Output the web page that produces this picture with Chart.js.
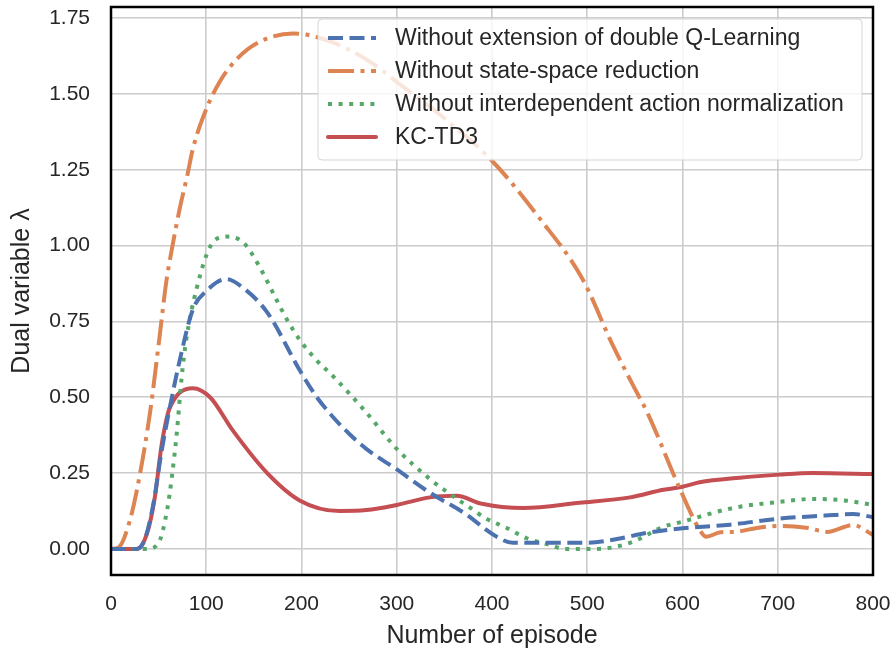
<!DOCTYPE html>
<html>
<head>
<meta charset="utf-8">
<script src="https://cdn.jsdelivr.net/npm/chart.js@4.4.0/dist/chart.umd.min.js"></script>
<style>
  html, body { margin: 0; padding: 0; background: #fff; }
  #wrap { width: 895px; height: 649px; }
</style>
</head>
<body>
<div id="wrap"><canvas id="chart" width="895" height="649"></canvas></div>
<script>
// values: [episode, lambda]
const noDoubleQ = [[0,0],[25,0],[34,0.02],[44,0.14],[53,0.32],[62,0.47],[72,0.62],[86,0.79],[100,0.85],[121,0.89],[139,0.86],[164,0.78],[198,0.59],[215,0.505],[233,0.435],[250,0.38],[268,0.33],[300,0.262],[335,0.185],[370,0.12],[405,0.04],[422,0.02],[450,0.02],[500,0.02],[527,0.03],[563,0.053],[600,0.068],[650,0.08],[702,0.1],[750,0.11],[779,0.115],[800,0.105]];
const noStateReduction = [[0,0],[8,0.005],[20,0.096],[30,0.24],[41,0.45],[51,0.7],[58,0.88],[64,0.99],[72,1.12],[80,1.23],[86,1.32],[100,1.45],[114,1.54],[132,1.615],[156,1.672],[191,1.7],[233,1.67],[275,1.6],[300,1.54],[350,1.42],[400,1.28],[450,1.09],[495,0.89],[527,0.67],[548,0.54],[563,0.45],[597,0.2],[618,0.063],[625,0.04],[640,0.055],[653,0.056],[680,0.07],[702,0.076],[730,0.07],[752,0.056],[779,0.079],[800,0.046]];
const noActionNorm = [[0,0],[38,0],[50,0.02],[59,0.13],[64,0.24],[69,0.38],[74,0.56],[79,0.69],[90,0.86],[104,0.996],[121,1.03],[139,1.01],[156,0.93],[174,0.82],[185,0.755],[198,0.69],[215,0.625],[233,0.57],[268,0.45],[300,0.33],[335,0.23],[354,0.185],[375,0.14],[394,0.1],[415,0.07],[436,0.036],[461,0.013],[475,0],[510,0],[545,0.02],[580,0.073],[600,0.09],[653,0.135],[702,0.155],[737,0.165],[770,0.16],[800,0.145]];
const kcTd3 = [[0,0],[27,0],[38,0.053],[46,0.17],[53,0.34],[60,0.45],[64,0.48],[72,0.515],[86,0.53],[104,0.5],[128,0.39],[164,0.25],[198,0.16],[240,0.125],[268,0.128],[300,0.145],[335,0.17],[363,0.175],[388,0.15],[433,0.135],[492,0.152],[545,0.17],[580,0.195],[600,0.205],[618,0.22],[660,0.235],[702,0.245],[737,0.25],[800,0.247]];

const seriesNames = [
  'Without extension of double Q-Learning',
  'Without state-space reduction',
  'Without interdependent action normalization',
  'KC-TD3'
];
const xTicks = [0, 100, 200, 300, 400, 500, 600, 700, 800];
const yTicks = [0, 0.25, 0.5, 0.75, 1.0, 1.25, 1.5, 1.75];

const FONT = '"Liberation Sans", Arial, sans-serif';
const toPts = arr => arr.map(p => ({ x: p[0], y: p[1] }));

function makeSet(label, data, color, dash) {
  return {
    label,
    data: toPts(data),
    borderColor: color,
    backgroundColor: color,
    borderDash: dash,
    borderWidth: 4,
    borderCapStyle: dash.length ? 'butt' : 'round',
    pointRadius: 0,
    cubicInterpolationMode: 'monotone',
    fill: false
  };
}

// keep the plot box fixed, labels may hang over the edges
function noOverhang(s) {
  s.paddingLeft = 0;
  s.paddingRight = 0;
  s.paddingTop = 0;
  s.paddingBottom = 0;
}

// legend drawn inside the plot, matplotlib style
const innerLegend = {
  id: 'innerLegend',
  afterDatasetsDraw(chart) {
    const ctx = chart.ctx;
    const x0 = 318, y0 = 19, w = 544, h = 141;
    ctx.save();
    ctx.beginPath();
    ctx.roundRect(x0, y0, w, h, 4);
    ctx.fillStyle = 'rgba(255,255,255,0.8)';
    ctx.fill();
    ctx.strokeStyle = '#d5d5d5';
    ctx.lineWidth = 1;
    ctx.stroke();
    ctx.font = '23px ' + FONT;
    ctx.textBaseline = 'middle';
    chart.data.datasets.forEach((ds, i) => {
      const yy = 38 + i * 33;
      ctx.beginPath();
      ctx.setLineDash(ds.borderDash || []);
      ctx.lineCap = ds.borderCapStyle;
      ctx.strokeStyle = ds.borderColor;
      ctx.lineWidth = ds.borderWidth;
      ctx.moveTo(328, yy);
      ctx.lineTo(376, yy);
      ctx.stroke();
      ctx.setLineDash([]);
      ctx.fillStyle = '#262626';
      ctx.fillText(ds.label, 395, yy + 1);
    });
    ctx.restore();
  }
};

// black frame around the plot area
const frame = {
  id: 'frame',
  afterDraw(chart) {
    const a = chart.chartArea;
    const ctx = chart.ctx;
    ctx.save();
    ctx.strokeStyle = '#000';
    ctx.lineWidth = 2.5;
    ctx.strokeRect(a.left, a.top, a.right - a.left, a.bottom - a.top);
    ctx.restore();
  }
};

new Chart(document.getElementById('chart').getContext('2d'), {
  type: 'line',
  data: {
    datasets: [
      makeSet(seriesNames[0], noDoubleQ, '#4C72B0', [15, 6.5]),
      makeSet(seriesNames[1], noStateReduction, '#DD8452', [26, 6.5, 4, 6.5]),
      makeSet(seriesNames[2], noActionNorm, '#55A868', [4, 6.6]),
      makeSet(seriesNames[3], kcTd3, '#C44E52', [])
    ]
  },
  options: {
    responsive: false,
    animation: false,
    layout: { padding: { top: 7, right: 22, left: 0, bottom: 0 } },
    plugins: {
      legend: { display: false },
      tooltip: { enabled: false }
    },
    scales: {
      x: {
        type: 'linear',
        min: 0,
        max: 800,
        afterBuildTicks: s => { s.ticks = xTicks.map(v => ({ value: v })); },
        afterFit: s => { s.height = 74; noOverhang(s); },
        grid: { color: '#cccccc', lineWidth: 1.6, drawTicks: false },
        border: { display: false },
        ticks: { color: '#262626', font: { family: FONT, size: 21 }, padding: 17, maxRotation: 0 },
        title: { display: true, text: 'Number of episode', color: '#262626', font: { family: FONT, size: 25, lineHeight: 1 }, padding: 0 }
      },
      y: {
        type: 'linear',
        min: -0.086,
        max: 1.787,
        afterBuildTicks: s => { s.ticks = yTicks.map(v => ({ value: v })); },
        afterFit: s => { s.width = 111; noOverhang(s); },
        grid: { color: '#cccccc', lineWidth: 1.6, drawTicks: false },
        border: { display: false },
        ticks: { color: '#262626', font: { family: FONT, size: 21 }, padding: 21, callback: v => v.toFixed(2) },
        title: { display: true, text: 'Dual variable λ', color: '#262626', font: { family: FONT, size: 25, lineHeight: 1 }, padding: { top: 10, bottom: 10 } }
      }
    }
  },
  plugins: [innerLegend, frame]
});
</script>
</body>
</html>
